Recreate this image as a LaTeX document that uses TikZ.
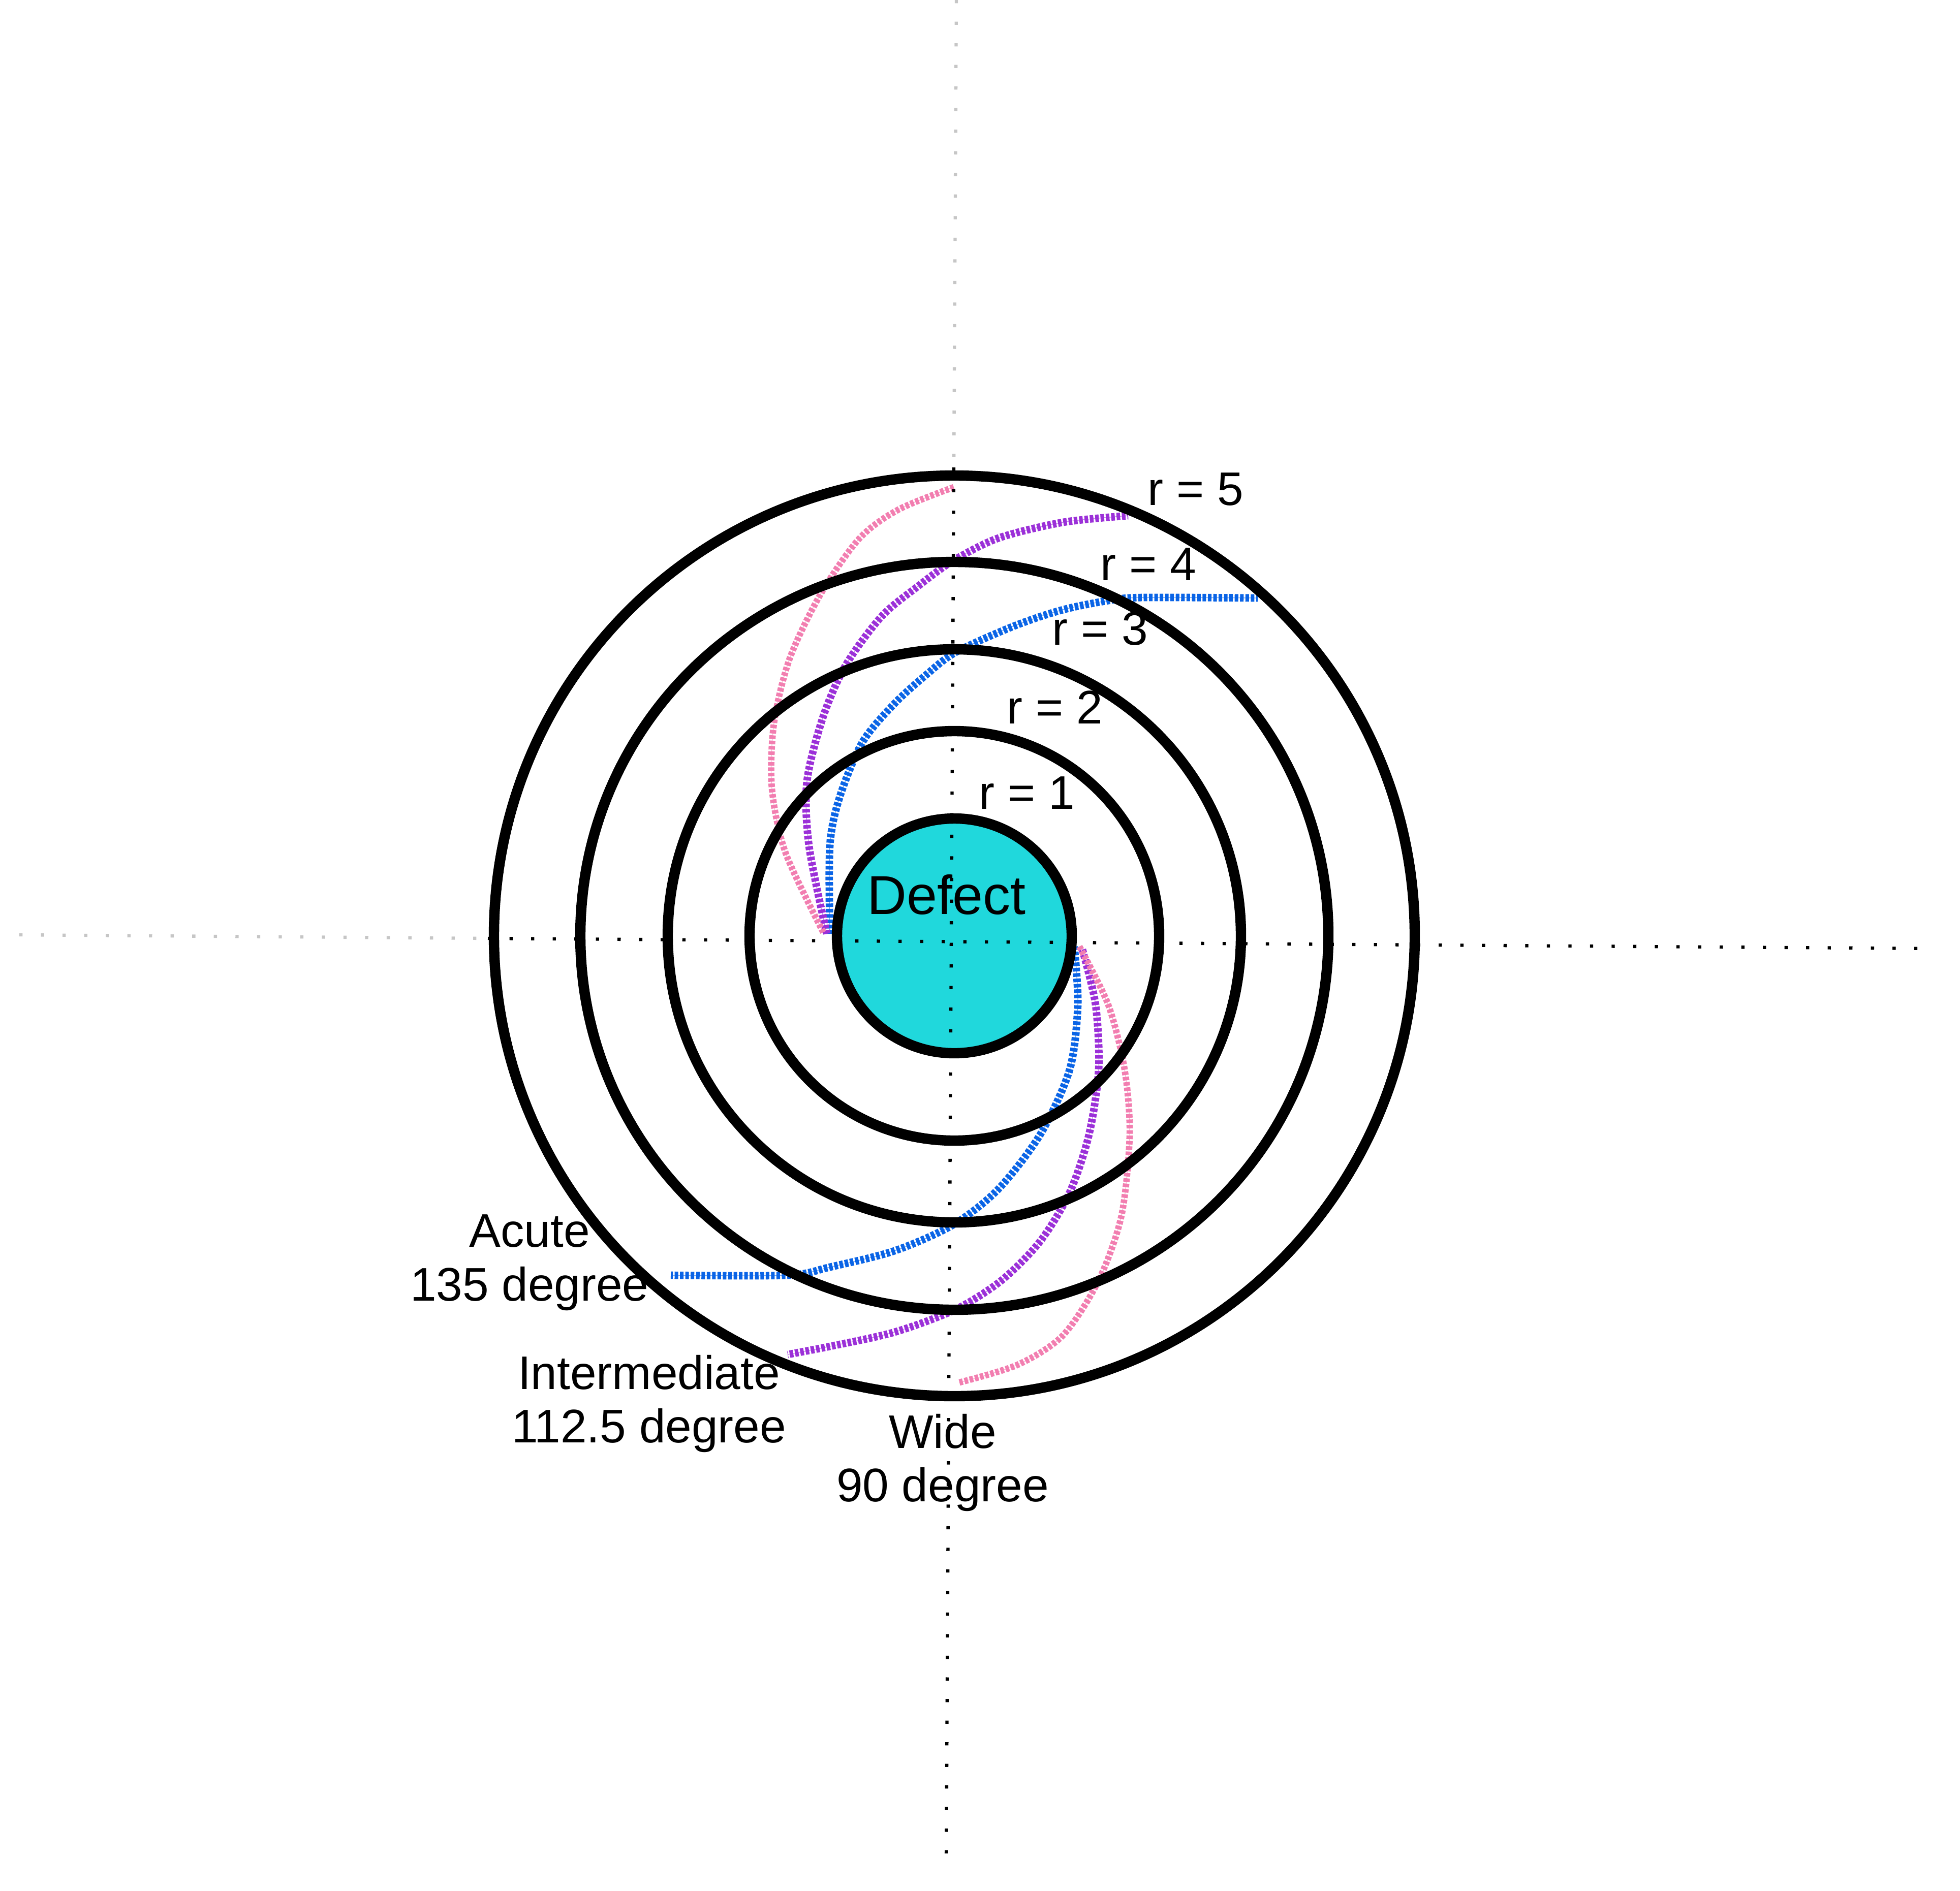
\documentclass[tikz,border=0pt]{standalone}
\usepackage{fontspec}
\setmainfont{Liberation Sans}
\usetikzlibrary{positioning}
\usepackage{xcolor}
\definecolor{xcyan}{HTML}{20D8DC}
\definecolor{xblue}{HTML}{0A64E6}
\definecolor{xpurple}{HTML}{9B30D8}
\definecolor{xpink}{HTML}{F27EB0}
\tikzset{
	ring/.style={line width=5.8pt},
	axis/.style={line width=1.8pt, dash pattern=on 1.8pt off 10.3pt},
	spiral/.style={line width=4.2pt, draw=#1, dash pattern=on 2pt off 1pt, preaction={draw=#1!55, solid}},
	rlabel/.style={anchor=base west, inner sep=0pt, font=\fontsize{26.4}{30}\selectfont},
	angle label/.style={align=center, inner sep=0pt, font=\fontsize{26.4}{30}\selectfont},
}

\begin{document}
\begin{tikzpicture}
	\useasboundingbox (0,0) rectangle (38.57,-37.21);
	\coordinate (C) at (18.78,-18.42);

	% Growth paths, upper half
	\draw[spiral=xblue] plot[smooth] coordinates {(16.33,-18.38) (16.33,-16.65) (16.52,-15.70) (16.97,-14.61) (17.60,-13.85) (18.24,-13.27) (18.82,-12.83) (19.96,-12.32) (20.92,-12.00) (21.88,-11.81) (22.52,-11.76) (24.75,-11.77)};
	\draw[spiral=xpurple] plot[smooth] coordinates {(16.27,-18.38) (15.92,-16.65) (15.88,-15.38) (16.20,-14.10) (16.65,-13.08) (17.35,-12.13) (18.05,-11.55) (18.75,-11.04) (19.65,-10.59) (20.92,-10.28) (22.20,-10.15)};
	\draw[spiral=xpink, line width=3.6pt] plot[smooth] coordinates {(16.20,-18.35) (15.46,-16.79) (15.19,-15.52) (15.23,-14.24) (15.54,-12.96) (16.15,-11.69) (16.91,-10.60) (17.68,-10.03) (18.77,-9.59)};

	% Growth paths, lower half
	\draw[spiral=xblue] plot[smooth] coordinates {(21.14,-18.63) (21.21,-19.78) (21.05,-21.05) (20.47,-22.33) (19.64,-23.41) (18.75,-24.11) (17.60,-24.62) (16.33,-24.94) (15.50,-25.10) (13.20,-25.10)};
	\draw[spiral=xpurple] plot[smooth] coordinates {(21.30,-18.69) (21.56,-19.78) (21.62,-21.05) (21.43,-22.33) (21.05,-23.47) (20.47,-24.43) (19.71,-25.20) (18.81,-25.77) (17.60,-26.22) (16.33,-26.50) (15.50,-26.66)};
	\draw[spiral=xpink, line width=3.6pt] plot[smooth] coordinates {(21.24,-18.63) (21.81,-19.78) (22.13,-21.05) (22.23,-22.33) (22.07,-23.92) (21.62,-25.20) (20.92,-26.28) (20.03,-26.86) (18.88,-27.21)};

	% Rings
	\foreach \rad in {4.03,5.64,7.36,9.06}
		\draw[ring] (C) circle (\rad);
	\filldraw[ring, fill=xcyan] (C) circle (2.31);

	% Axes
	\coordinate (hL) at (0.38,-18.40);
	\coordinate (hM) at (9.60,-18.47);
	\coordinate (hR) at (38.06,-18.67);
	\coordinate (vT) at (18.82,0);
	\coordinate (vM) at (18.77,-9.20);
	\coordinate (vB) at (18.62,-36.71);
	\draw[axis, gray!45] (hL) -- (hM);
	\draw[axis] (hM) -- (hR);
	\draw[axis, gray!45] (vT) -- (vM);
	\draw[axis] (vM) -- (vB);

	% Labels
	\node[rlabel, font=\fontsize{30.7}{34}\selectfont] (defect) at (17.06,-17.99) {Defect};
	\node[rlabel] (r1) at (19.26,-15.92) {r = 1};
	\node[rlabel] (r2) at (19.81,-14.24) {r = 2};
	\node[rlabel] (r3) at (20.70,-12.69) {r = 3};
	\node[rlabel] (r4) at (21.65,-11.42) {r = 4};
	\node[rlabel] (r5) at (22.58,-9.94) {r = 5};

	\node[angle label] (acute) at (10.42,-24.85) {Acute\\135 degree};
	\node[angle label] (inter) at (12.77,-27.63) {Intermediate\\112.5 degree};
	\node[angle label] (wide) at (18.55,-28.79) {Wide\\90 degree};
\end{tikzpicture}
\end{document}
